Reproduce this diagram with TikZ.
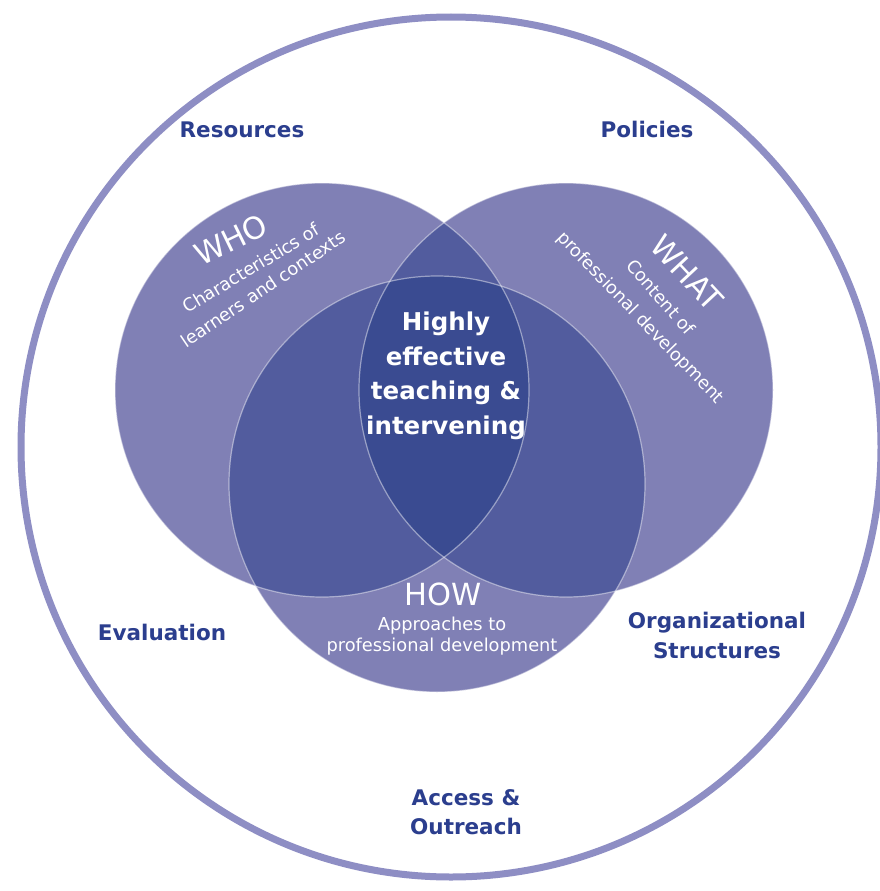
\documentclass[tikz,border=0pt]{standalone}
\usepackage{fontspec}
\setmainfont{DejaVu Sans}
\definecolor{ring}{RGB}{142,142,196}
\definecolor{lab}{RGB}{43,62,142}
\definecolor{one}{RGB}{128,128,181}
\definecolor{two}{RGB}{82,92,158}
\definecolor{three}{RGB}{58,75,145}
\tikzset{
  bluelab/.style={text=lab, font=\fontsize{21.5}{30}\selectfont\bfseries, align=center, inner sep=0pt},
  centertxt/.style={text=white, font=\fontsize{24.5}{34}\selectfont\bfseries, inner sep=0pt, anchor=base},
  bigtitle/.style={text=white, font=\fontsize{30.5}{34}\selectfont, inner sep=0pt},
  smalltxt/.style={text=white, font=\fontsize{17.8}{20}\selectfont, inner sep=0pt},
  edge/.style={draw=white, draw opacity=0.45, line width=1.2pt}
}
\begin{document}
\begin{tikzpicture}[x=1pt,y=-1pt]
\useasboundingbox (0,0) rectangle (879,891);
\fill[white] (0,0) rectangle (879,891);
\coordinate (who) at (322,390);
\coordinate (what) at (566,390);
\coordinate (how) at (437,484);
\coordinate (outer) at (451,447);
% single regions
\fill[one] (who) circle (207pt);
\fill[one] (what) circle (207pt);
\fill[one] (how) circle (208pt);
% double overlaps
\begin{scope}
  \clip (who) circle (207pt);
  \fill[two] (what) circle (207pt);
  \fill[two] (how) circle (208pt);
\end{scope}
\begin{scope}
  \clip (what) circle (207pt);
  \fill[two] (how) circle (208pt);
\end{scope}
% triple overlap
\begin{scope}
  \clip (who) circle (207pt);
  \clip (what) circle (207pt);
  \fill[three] (how) circle (208pt);
\end{scope}
\draw[edge] (who) circle (207pt);
\draw[edge] (what) circle (207pt);
\draw[edge] (how) circle (208pt);
% outer ring
\draw[ring, line width=7pt] (outer) circle (430pt);
% outer labels
\node[bluelab, anchor=base] (res) at (242,137) {Resources};
\node[bluelab, anchor=base] (pol) at (647,137) {Policies};
\node[bluelab, anchor=base] (eva) at (162,640) {Evaluation};
\node[bluelab, anchor=base] (org1) at (717,628) {Organizational};
\node[bluelab, anchor=base] (org2) at (717,658) {Structures};
\node[bluelab, anchor=base] (acc1) at (466,805) {Access \&};
\node[bluelab, anchor=base] (acc2) at (466,834) {Outreach};
% centre
\node[centertxt] (c1) at (446,330) {Highly};
\node[centertxt] (c2) at (446,365) {effective};
\node[centertxt] (c3) at (446,399) {teaching \&};
\node[centertxt] (c4) at (446,434) {intervening};
% WHO
\node[bigtitle, rotate=26] (whot) at (231,240) {WHO};
\node[smalltxt, rotate=31] (who1) at (251,268) {Characteristics of};
\node[smalltxt, rotate=34] (who2) at (263,289) {learners and contexts};
% WHAT
\node[bigtitle, rotate=-47] (whatt) at (687,273) {WHAT};
\node[smalltxt, rotate=-49] (what1) at (661,297) {Content of};
\node[smalltxt, rotate=-46] (what2) at (640,318) {professional development};
% HOW
\node[bigtitle, anchor=base] (howt) at (443,605) {HOW};
\node[smalltxt, anchor=base] (how1) at (442,630) {Approaches to};
\node[smalltxt, anchor=base] (how2) at (442,651) {professional development};
\end{tikzpicture}
\end{document}
